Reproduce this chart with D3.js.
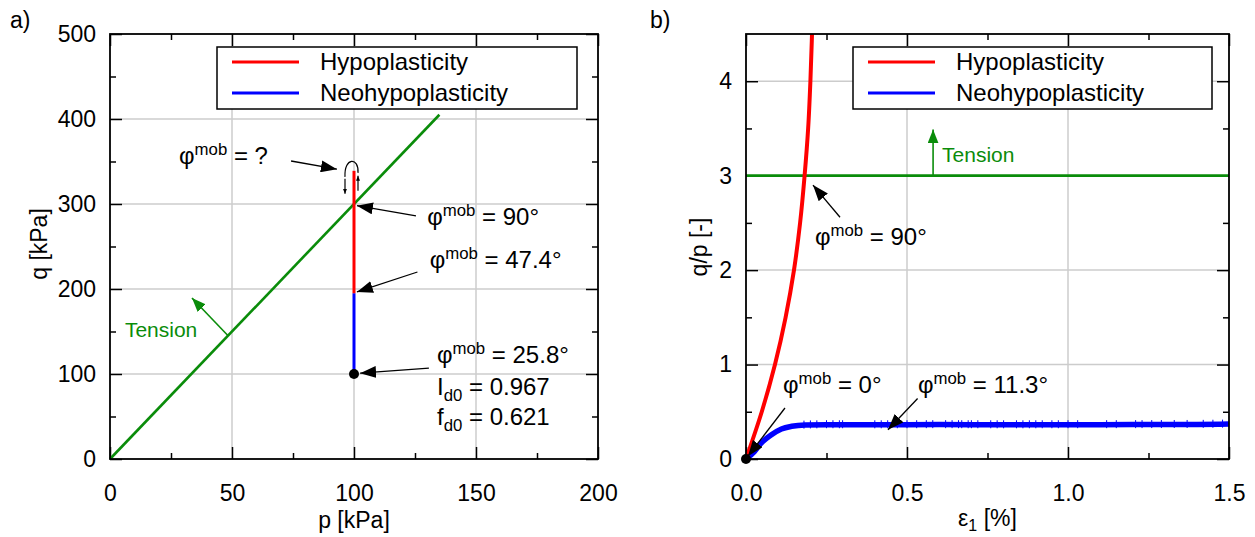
<!DOCTYPE html>
<html><head><meta charset="utf-8">
<script src="https://cdn.jsdelivr.net/npm/d3@7/dist/d3.min.js"></script>
<style>
body{margin:0;background:#fff}
svg{display:block}
text{font-family:"Liberation Sans",Arial,Helvetica,sans-serif;fill:#000}
</style>
</head><body>
<svg id="c" width="1255" height="537"></svg>
<script>
// ---------------- DATA ----------------
// Panel a) stress path p-q
const tensionLineP = [0, 135];
const tensionLineQ = [0, 405];
const hypoPathP = [100, 100];
const hypoPathQ = [195, 339];
const neoPathP = [100, 100];
const neoPathQ = [100, 195];
const startPointA = [100, 100];
const aXTicksMajor = [0, 50, 100, 150, 200];
const aXTicksMinor = [25, 75, 125, 175];
const aYTicksMajor = [0, 100, 200, 300, 400, 500];
const aYTicksMinor = [50, 150, 250, 350, 450];

// Panel b) q/p vs eps1
const hypoEps = [0, 0.049, 0.090, 0.123, 0.149, 0.168, 0.182, 0.193, 0.200, 0.205];
const hypoQP  = [0, 0.50, 1.00, 1.50, 2.00, 2.50, 3.00, 3.50, 4.00, 4.50];
const neoEps = [0, 0.026, 0.047, 0.079, 0.110, 0.142, 0.184, 0.25, 0.40, 0.60, 0.80, 1.00, 1.20, 1.40, 1.50];
const neoQP  = [0, 0.079, 0.168, 0.257, 0.318, 0.346, 0.360, 0.363, 0.362, 0.364, 0.362, 0.363, 0.364, 0.366, 0.370];
const neoSpikeEps = [0.18, 0.20, 0.22, 0.25, 0.27, 0.29, 0.30, 0.40, 0.42, 0.44, 0.47, 0.50, 0.53, 0.56, 0.58,
                     0.62, 0.64, 0.66, 0.67, 0.69, 0.70, 0.72, 0.76, 0.78, 0.80, 0.84, 0.86, 0.88, 0.90, 0.92,
                     0.95, 0.97, 1.00, 1.03, 1.12, 1.15, 1.21, 1.23, 1.26, 1.29, 1.33, 1.37, 1.42, 1.45, 1.48];
const tensionQP = 3;
const bXTicksMajor = [0, 0.5, 1.0, 1.5];
const bXTicksMinor = [0.25, 0.75, 1.25];
const bYTicksMajor = [0, 1, 2, 3, 4];
const bYTicksMinor = [0.5, 1.5, 2.5, 3.5];

const legendNames = ["Hypoplasticity", "Neohypoplasticity"];
const legendColors = ["#ff0000", "#0000ff"];
const GREEN = "#0a8c0a";

// ---------------- SETUP ----------------
const svg = d3.select("#c");
const defs = svg.append("defs");
function marker(id, color, len, wid) {
  defs.append("marker").attr("id", id)
    .attr("viewBox", `${-len} ${-wid/2} ${len} ${wid}`)
    .attr("refX", 0).attr("refY", 0)
    .attr("markerUnits", "userSpaceOnUse")
    .attr("markerWidth", len).attr("markerHeight", wid)
    .attr("orient", "auto")
    .append("path").attr("d", `M${-len},${-wid/2}L0,0L${-len},${wid/2}Z`).attr("fill", color);
}
marker("ah", "#000", 16, 12);
marker("ahs", "#000", 5, 4);
marker("ag", GREEN, 14, 11);

function frame(g, x, y, xMaj, xMin, yMaj, yMin, xFmt, yFmt) {
  const [x0, x1] = x.range(), [y0, y1] = y.range();
  g.append("g").selectAll("line").data(xMaj.filter(v => v !== x.domain()[0] && v !== x.domain()[1]))
    .join("line").attr("x1", d => x(d)).attr("x2", d => x(d)).attr("y1", y0).attr("y2", y1)
    .attr("stroke", "#cccccc").attr("stroke-width", 1.5);
  g.append("g").selectAll("line").data(yMaj.filter(v => v !== y.domain()[0] && v !== y.domain()[1]))
    .join("line").attr("y1", d => y(d)).attr("y2", d => y(d)).attr("x1", x0).attr("x2", x1)
    .attr("stroke", "#cccccc").attr("stroke-width", 1.5);
  const st = sel => { sel.select(".domain").remove(); sel.selectAll("line").attr("stroke", "#000").attr("stroke-width", 1.5); };
  g.append("g").attr("transform", `translate(0,${y0})`)
    .call(d3.axisBottom(x).tickValues(xMaj).tickSize(-12).tickPadding(26).tickFormat(xFmt)).call(st)
    .selectAll("text").attr("font-size", 23).attr("font-family", "Liberation Sans, Arial");
  g.append("g").attr("transform", `translate(0,${y0})`)
    .call(d3.axisBottom(x).tickValues(xMin).tickSize(-6).tickFormat("")).call(st);
  g.append("g").attr("transform", `translate(0,${y1})`)
    .call(d3.axisTop(x).tickValues(xMaj).tickSize(-12).tickFormat("")).call(st);
  g.append("g").attr("transform", `translate(0,${y1})`)
    .call(d3.axisTop(x).tickValues(xMin).tickSize(-6).tickFormat("")).call(st);
  g.append("g").attr("transform", `translate(${x0},0)`)
    .call(d3.axisLeft(y).tickValues(yMaj).tickSize(-12).tickPadding(14).tickFormat(yFmt)).call(st)
    .selectAll("text").attr("font-size", 23).attr("font-family", "Liberation Sans, Arial");
  g.append("g").attr("transform", `translate(${x0},0)`)
    .call(d3.axisLeft(y).tickValues(yMin).tickSize(-6).tickFormat("")).call(st);
  g.append("g").attr("transform", `translate(${x1},0)`)
    .call(d3.axisRight(y).tickValues(yMaj).tickSize(-12).tickFormat("")).call(st);
  g.append("g").attr("transform", `translate(${x1},0)`)
    .call(d3.axisRight(y).tickValues(yMin).tickSize(-6).tickFormat("")).call(st);
}
function box(g, x, y) {
  const [x0, x1] = x.range(), [y0, y1] = y.range();
  g.append("rect").attr("x", x0).attr("y", y1).attr("width", x1 - x0).attr("height", y0 - y1)
    .attr("fill", "none").attr("stroke", "#000").attr("stroke-width", 1.8);
}
function legend(g, lx, ly, w, h) {
  g.append("rect").attr("x", lx).attr("y", ly).attr("width", w).attr("height", h)
    .attr("fill", "#fff").attr("stroke", "#000").attr("stroke-width", 1.5);
  legendNames.forEach((n, i) => {
    const yy = ly + 15 + i * 31;
    g.append("line").attr("x1", lx + 15).attr("x2", lx + 82).attr("y1", yy).attr("y2", yy)
      .attr("stroke", legendColors[i]).attr("stroke-width", 3);
    g.append("text").attr("x", lx + 103).attr("y", yy + 8).attr("font-size", 24).text(n);
  });
}
function phiLabel(g, px, py, val, size) {
  const t = g.append("text").attr("x", px).attr("y", py).attr("font-size", size);
  t.append("tspan").text("φ");
  t.append("tspan").attr("dy", -9).attr("font-size", size * 0.7).text("mob");
  t.append("tspan").attr("dy", 9).text(" = " + val);
  return t;
}
function subLabel(g, px, py, main, sub, rest, size) {
  const t = g.append("text").attr("x", px).attr("y", py).attr("font-size", size);
  t.append("tspan").text(main);
  t.append("tspan").attr("dy", 6).attr("font-size", size * 0.7).text(sub);
  t.append("tspan").attr("dy", -6).text(rest);
}
function arrow(g, x1, y1, x2, y2, m, color, w) {
  g.append("line").attr("x1", x1).attr("y1", y1).attr("x2", x2).attr("y2", y2)
    .attr("stroke", color || "#000").attr("stroke-width", w || 1.3).attr("marker-end", `url(#${m || "ah"})`);
}
const AF = 24;

// ---------------- PANEL A ----------------
const xa = d3.scaleLinear().domain([0, 200]).range([110, 598]);
const ya = d3.scaleLinear().domain([0, 500]).range([459, 34]);
const ga = svg.append("g");
frame(ga, xa, ya, aXTicksMajor, aXTicksMinor, aYTicksMajor, aYTicksMinor, d3.format("d"), d3.format("d"));

const lineA = d3.line().x(d => xa(d[0])).y(d => ya(d[1]));
ga.append("path").datum(d3.zip(tensionLineP, tensionLineQ)).attr("d", lineA)
  .attr("fill", "none").attr("stroke", GREEN).attr("stroke-width", 2.6);
ga.append("path").datum(d3.zip(neoPathP, neoPathQ)).attr("d", lineA)
  .attr("fill", "none").attr("stroke", "#0000ff").attr("stroke-width", 3);
ga.append("path").datum(d3.zip(hypoPathP, hypoPathQ)).attr("d", lineA)
  .attr("fill", "none").attr("stroke", "#ff0000").attr("stroke-width", 3);
ga.append("circle").attr("cx", xa(startPointA[0])).attr("cy", ya(startPointA[1])).attr("r", 5).attr("fill", "#000");

legend(ga, 217, 47, 360, 62);

{
  const X = xa(hypoPathP[1]), Y = ya(hypoPathQ[1]);
  ga.append("path").attr("d", `M${X-9},${Y+6} C${X-10},${Y-14} ${X+5},${Y-14} ${X+4},${Y+2}`)
    .attr("fill", "none").attr("stroke", "#000").attr("stroke-width", 1.2);
  arrow(ga, X - 9, Y + 8, X - 9, Y + 23, "ahs", "#000", 1.2);
  arrow(ga, X + 4, Y + 20, X + 4, Y + 5, "ahs", "#000", 1.2);
}
phiLabel(ga, xa(28.3), ya(347), "?", AF);
arrow(ga, xa(74.2), ya(350.6), xa(93), ya(341));
phiLabel(ga, xa(130), ya(275), "90°", AF);
arrow(ga, xa(125.4), ya(286), xa(101.2), ya(298));
phiLabel(ga, xa(131), ya(225), "47.4°", AF);
arrow(ga, xa(126), ya(220), xa(101.2), ya(196.5));
phiLabel(ga, xa(134), ya(113), "25.8°", AF);
arrow(ga, xa(130.7), ya(107), xa(102.5), ya(101));
subLabel(ga, xa(134), ya(75), "I", "d0", " = 0.967", AF);
subLabel(ga, xa(134), ya(40), "f", "d0", " = 0.621", AF);
ga.append("text").attr("x", xa(6.1)).attr("y", ya(143.5)).attr("font-size", 21).style("fill", GREEN).text("Tension");
arrow(ga, xa(48.4), ya(145), xa(33.6), ya(189.4), "ag", GREEN, 1.6);

box(ga, xa, ya);

ga.append("text").attr("x", 10).attr("y", 28).attr("font-size", 23).text("a)");
ga.append("text").attr("x", xa(100)).attr("y", 528).attr("text-anchor", "middle").attr("font-size", 23).text("p [kPa]");
ga.append("text").attr("transform", "translate(47,244) rotate(-90)").attr("text-anchor", "middle").attr("font-size", 23).text("q [kPa]");

// ---------------- PANEL B ----------------
const xb = d3.scaleLinear().domain([0, 1.5]).range([746, 1229]);
const yb = d3.scaleLinear().domain([0, 4.5]).range([459, 34]);
const gb = svg.append("g");
frame(gb, xb, yb, bXTicksMajor, bXTicksMinor, bYTicksMajor, bYTicksMinor, d3.format(".1f"), d3.format("d"));

gb.append("line").attr("x1", xb(0)).attr("x2", xb(1.5)).attr("y1", yb(tensionQP)).attr("y2", yb(tensionQP))
  .attr("stroke", GREEN).attr("stroke-width", 2.6);
arrow(gb, xb(0.581), yb(tensionQP), xb(0.581), yb(3.49), "ag", GREEN, 1.6);
gb.append("text").attr("x", xb(0.609)).attr("y", yb(3.14)).attr("font-size", 21).style("fill", GREEN).text("Tension");

const lineB = d3.line().x(d => xb(d[0])).y(d => yb(d[1])).curve(d3.curveMonotoneX);
const lineBy = d3.line().x(d => xb(d[0])).y(d => yb(d[1])).curve(d3.curveMonotoneY);
const neoInterp = e => {
  for (let i = 1; i < neoEps.length; i++) if (e <= neoEps[i]) {
    const t = (e - neoEps[i-1]) / (neoEps[i] - neoEps[i-1]);
    return neoQP[i-1] + t * (neoQP[i] - neoQP[i-1]);
  }
  return neoQP[neoQP.length - 1];
};
gb.append("path").datum(d3.zip(neoEps, neoQP)).attr("d", lineB)
  .attr("fill", "none").attr("stroke", "#0000ff").attr("stroke-width", 5.5);
gb.append("g").selectAll("line").data(neoSpikeEps).join("line")
  .attr("x1", d => xb(d)).attr("x2", d => xb(d))
  .attr("y1", d => yb(neoInterp(d)) - 4.5).attr("y2", d => yb(neoInterp(d)) + 3.5)
  .attr("stroke", "#0000ff").attr("stroke-width", 1);
gb.append("path").datum(d3.zip(hypoEps, hypoQP)).attr("d", lineBy)
  .attr("fill", "none").attr("stroke", "#ff0000").attr("stroke-width", 4);
gb.append("circle").attr("cx", xb(0)).attr("cy", yb(0)).attr("r", 5).attr("fill", "#000");

legend(gb, 853, 47, 359, 62);

phiLabel(gb, xb(0.214), yb(2.27), "90°", AF);
arrow(gb, xb(0.292), yb(2.56), xb(0.208), yb(2.9));
phiLabel(gb, xb(0.115), yb(0.70), "0°", AF);
arrow(gb, xb(0.121), yb(0.54), xb(0.006), yb(0.03));
phiLabel(gb, xb(0.534), yb(0.70), "11.3°", AF);
arrow(gb, xb(0.533), yb(0.64), xb(0.441), yb(0.31));

box(gb, xb, yb);

gb.append("text").attr("x", 650).attr("y", 28).attr("font-size", 23).text("b)");
{
  const t = gb.append("text").attr("x", xb(0.75)).attr("y", 526).attr("text-anchor", "middle").attr("font-size", 23);
  t.append("tspan").text("ε");
  t.append("tspan").attr("dy", 5).attr("font-size", 16).text("1");
  t.append("tspan").attr("dy", -5).text(" [%]");
}
gb.append("text").attr("transform", "translate(707,247) rotate(-90)").attr("text-anchor", "middle").attr("font-size", 23).text("q/p [-]");
</script>
</body></html>
